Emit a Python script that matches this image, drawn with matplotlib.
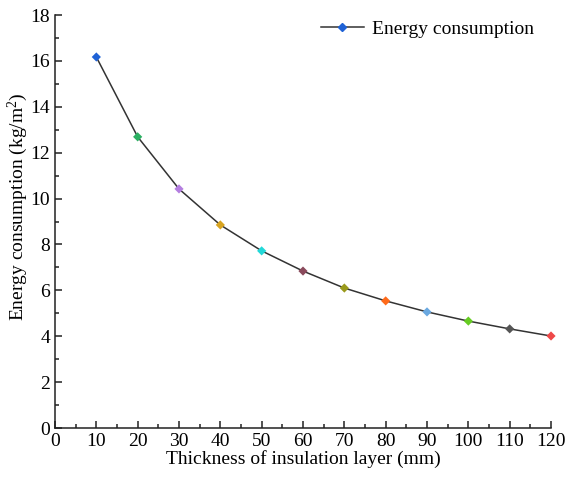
import matplotlib.pyplot as plt
from matplotlib.ticker import MultipleLocator
from matplotlib.lines import Line2D

# Data
thickness = [10, 20, 30, 40, 50, 60, 70, 80, 90, 100, 110, 120]
energy = [16.17, 12.69, 10.42, 8.85, 7.72, 6.84, 6.10, 5.54, 5.06, 4.66, 4.32, 4.01]
point_colors = ['#1f62d6', '#2bb062', '#b47ee0', '#d8a420', '#22d8d8', '#8a4a5c',
                '#9a9a1c', '#ff6a1a', '#6aa8e0', '#66cc22', '#555555', '#ee4848']

plt.rcParams['font.family'] = 'Liberation Serif'
plt.rcParams['font.size'] = 14
plt.rcParams['mathtext.fontset'] = 'custom'
plt.rcParams['mathtext.rm'] = 'Liberation Serif'

fig = plt.figure(figsize=(5.71, 4.78), dpi=100)
ax = fig.add_axes([0.0963, 0.1046, 0.8687, 0.864])

# Curve, then the coloured markers on top
ax.plot(thickness, energy, color='#333333', lw=1.1, zorder=2)
ax.scatter(thickness, energy, c=point_colors, marker='D', s=22, zorder=3,
           linewidths=0, clip_on=False)

ax.set_xlim(0, 120)
ax.set_ylim(0, 18)
ax.xaxis.set_major_locator(MultipleLocator(10))
ax.xaxis.set_minor_locator(MultipleLocator(5))
ax.yaxis.set_major_locator(MultipleLocator(2))
ax.yaxis.set_minor_locator(MultipleLocator(1))
ax.tick_params(which='both', direction='in', width=1.1, color='#222222')
ax.tick_params(which='major', length=5)
ax.tick_params(which='minor', length=3)
ax.spines['top'].set_visible(False)
ax.spines['right'].set_visible(False)
for sp in ['left', 'bottom']:
    ax.spines[sp].set_linewidth(1.1)
    ax.spines[sp].set_color('#222222')

ax.set_xlabel('Thickness of insulation layer (mm)', labelpad=0)
ax.set_ylabel('Energy consumption (kg/m$\\mathrm{^2}$)')
ax.yaxis.set_label_coords(-0.05, 0.535)

# Legend
handle = Line2D([], [], color='#333333', lw=1.1, marker='D', markersize=4,
                markerfacecolor='#1f62d6', markeredgecolor='#1f62d6')
ax.legend([handle], ['Energy consumption'], loc='upper right', frameon=False,
          handlelength=2.2, handletextpad=0.4, bbox_to_anchor=(1.0, 1.03))

plt.savefig('out.png', dpi=100)
